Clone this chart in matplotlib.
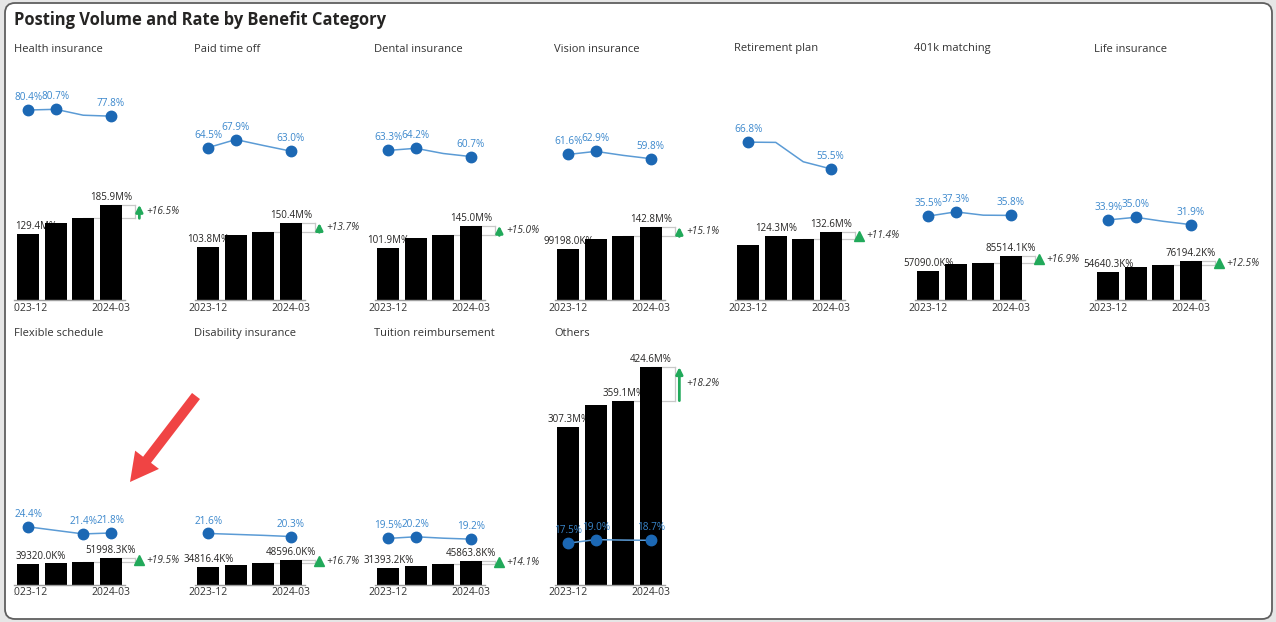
import matplotlib
matplotlib.use("Agg")
import matplotlib.pyplot as plt
from matplotlib.patches import FancyBboxPatch, FancyArrow
from matplotlib.transforms import Bbox, TransformedBbox

plt.rcParams['font.family'] = ['Open Sans', 'DejaVu Sans']

# ---------------- data ----------------
title = "Posting Volume and Rate by Benefit Category"
months = ["2023-12", "2024-01", "2024-02", "2024-03"]
categories = ["Health insurance", "Paid time off", "Dental insurance", "Vision insurance",
              "Retirement plan", "401k matching", "Life insurance",
              "Flexible schedule", "Disability insurance", "Tuition reimbursement", "Others"]

# posting volume (thousands)
vol_health = [129400, 151300, 159570, 185900]
vol_pto = [103800, 127000, 132280, 150400]
vol_dental = [101900, 120500, 126090, 145000]
vol_vision = [99198.0, 118500, 124070, 142800]
vol_retire = [107400, 124300, 119030, 132600]
vol_401k = [57090.0, 69700, 73150, 85514.1]
vol_life = [54640.3, 65000, 67730, 76194.2]
vol_flex = [39320.0, 41500, 43510, 51998.3]
vol_disab = [34816.4, 38500, 41640, 48596.0]
vol_tuition = [31393.2, 36500, 40200, 45863.8]
vol_others = [307300, 350000, 359100, 424600]

# posting rate (%)
rate_health = [80.4, 80.7, 78.2, 77.8]
rate_pto = [64.5, 67.9, 65.4, 63.0]
rate_dental = [63.3, 64.2, 62.0, 60.7]
rate_vision = [61.6, 62.9, 61.2, 59.8]
rate_retire = [66.8, 66.7, 58.5, 55.5]
rate_401k = [35.5, 37.3, 35.9, 35.8]
rate_life = [33.9, 35.0, 33.3, 31.9]
rate_flex = [24.4, 22.9, 21.4, 21.8]
rate_disab = [21.6, 21.2, 20.8, 20.3]
rate_tuition = [19.5, 20.2, 19.6, 19.2]
rate_others = [17.5, 19.0, 18.8, 18.7]

# which points carry a visible label
vol_label_idx = [[0, 3], [0, 3], [0, 3], [0, 3], [1, 3], [0, 3], [0, 3], [0, 3], [0, 3], [0, 3], [0, 2, 3]]
rate_label_idx = [[0, 1, 3], [0, 1, 3], [0, 1, 3], [0, 1, 3], [0, 3], [0, 1, 3], [0, 1, 3],
                  [0, 2, 3], [0, 3], [0, 1, 3], [0, 1, 3]]

volumes = [vol_health, vol_pto, vol_dental, vol_vision, vol_retire, vol_401k, vol_life,
           vol_flex, vol_disab, vol_tuition, vol_others]
rates = [rate_health, rate_pto, rate_dental, rate_vision, rate_retire, rate_401k, rate_life,
         rate_flex, rate_disab, rate_tuition, rate_others]

# ---------------- layout / style ----------------
W, H, DPI = 1276, 622, 100
BAR_MAX = 461500
RATE_MAX = 100
AX_H = 236.3
COL_W = 180
AX_W = 110
baselines = [300, 584.5]

BAR_C = "#000000"
LINE_C = "#5b9bd5"
MARK_C = "#1c68b4"
RLAB_C = "#3a87cc"
GREEN = "#21a95a"
GRAY = "#c8c8c8"

fig = plt.figure(figsize=(W / DPI, H / DPI), dpi=DPI)
fig.patch.set_facecolor("#e6e6e6")

ov = fig.add_axes([0, 0, 1, 1], zorder=0)
ov.set_xlim(0, W)
ov.set_ylim(H, 0)
ov.axis("off")
ov.add_patch(FancyBboxPatch((5, 3), 1267, 616, boxstyle="round,pad=0,rounding_size=10",
                            facecolor="white", edgecolor="#5f5f5f", lw=1.3))
ov.text(14, 20, title, fontsize=11.9, fontweight="bold", color="#252423", va="center", ha="left")

# visuals in the first column are clipped at their left edge
clip_left = TransformedBbox(Bbox([[14 / W, 0], [1, 1]]), fig.transFigure)


def fmt_vol(v):
    return f"{v / 1000:.1f}M%" if v >= 100000 else f"{v:.1f}K%"


x = list(range(len(months)))
for i, cat in enumerate(categories):
    row, col = divmod(i, 7)
    base = baselines[row]
    left_px = 14.5 + COL_W * col
    ov.text(14 + COL_W * col, base - 251, cat, fontsize=8, color="#333333", va="center", ha="left")

    ax = fig.add_axes([left_px / W, 1 - base / H, AX_W / W, AX_H / H], zorder=2)
    ax.patch.set_visible(False)
    vols = volumes[i]
    ax.bar(x, vols, width=0.8, color=BAR_C, zorder=2)
    ax.set_xlim(-0.5, 3.5)
    ax.set_ylim(0, BAR_MAX)
    ax.set_yticks([])
    ax.set_xticks([0, 3])
    tls = ax.set_xticklabels([months[0], months[3]], fontsize=7.5, color="#333333")
    ax.tick_params(axis="x", length=0, pad=2)
    for s in ["top", "left", "right"]:
        ax.spines[s].set_visible(False)
    ax.spines["bottom"].set_color("#a0a0a0")
    ax.spines["bottom"].set_linewidth(1.0)

    if col == 0:
        for t in tls:
            t.set_clip_box(clip_left)
            t.set_clip_on(True)

    for j in vol_label_idx[i]:
        if col == 0 and j == 0:
            # label nudged inside the visual's left edge
            ax.annotate(fmt_vol(vols[j]), (-0.5, vols[j]), xytext=(0.5, 1.5), textcoords="offset points",
                        ha="left", va="bottom", fontsize=7, color="#252423", zorder=1)
        else:
            ax.annotate(fmt_vol(vols[j]), (x[j], vols[j]), xytext=(0, 1.5), textcoords="offset points",
                        ha="center", va="bottom", fontsize=7, color="#252423", zorder=1)

    # change bracket between last two months
    v3, v4 = vols[2], vols[3]
    xb = 3.4 + 0.47
    xa = 3.4 + 0.64
    ax.plot([2, xb], [v3, v3], color=GRAY, lw=0.9, zorder=1, clip_on=False)
    ax.plot([3, xb], [v4, v4], color=GRAY, lw=0.9, zorder=1, clip_on=False)
    ax.plot([xb, xb], [v3, v4], color=GRAY, lw=0.9, zorder=1, clip_on=False)
    gap_px = (v4 - v3) / BAR_MAX * AX_H
    if gap_px > 8:
        ax.annotate("", xy=(xa, v4), xytext=(xa, v3),
                    arrowprops=dict(arrowstyle="-|>", color=GREEN, lw=2.0, mutation_scale=10,
                                    shrinkA=0, shrinkB=0), annotation_clip=False, zorder=4)
    else:
        ax.plot([xa], [(v3 + v4) / 2], marker="^", color=GREEN, ms=6.5, zorder=4, clip_on=False)
    chg = (v4 / v3 - 1) * 100
    ax.text(3.4 + 0.88, (v3 + v4) / 2, f"+{chg:.1f}%", fontsize=7.3, style="italic",
            color="#333333", ha="left", va="center", clip_on=False)

    ax2 = ax.twinx()
    ax2.set_ylim(0, RATE_MAX)
    ax2.axis("off")
    r = rates[i]
    ax2.plot(x, r, color=LINE_C, lw=1.1, zorder=3)
    idx = rate_label_idx[i]
    ax2.plot([x[j] for j in idx], [r[j] for j in idx], "o", color=MARK_C, ms=7.5, zorder=4)
    for j in idx:
        ax2.annotate(f"{r[j]:.1f}%", (x[j], r[j]), xytext=(0, 5), textcoords="offset points",
                     ha="center", va="bottom", fontsize=7.2, color=RLAB_C, zorder=5)

# red callout arrow
ov.add_patch(FancyArrow(196, 396, -66, 86, width=10, head_width=30, head_length=28,
                        length_includes_head=True, color="#f04444", lw=0))

fig.savefig("out.png", dpi=DPI, facecolor=fig.get_facecolor())
